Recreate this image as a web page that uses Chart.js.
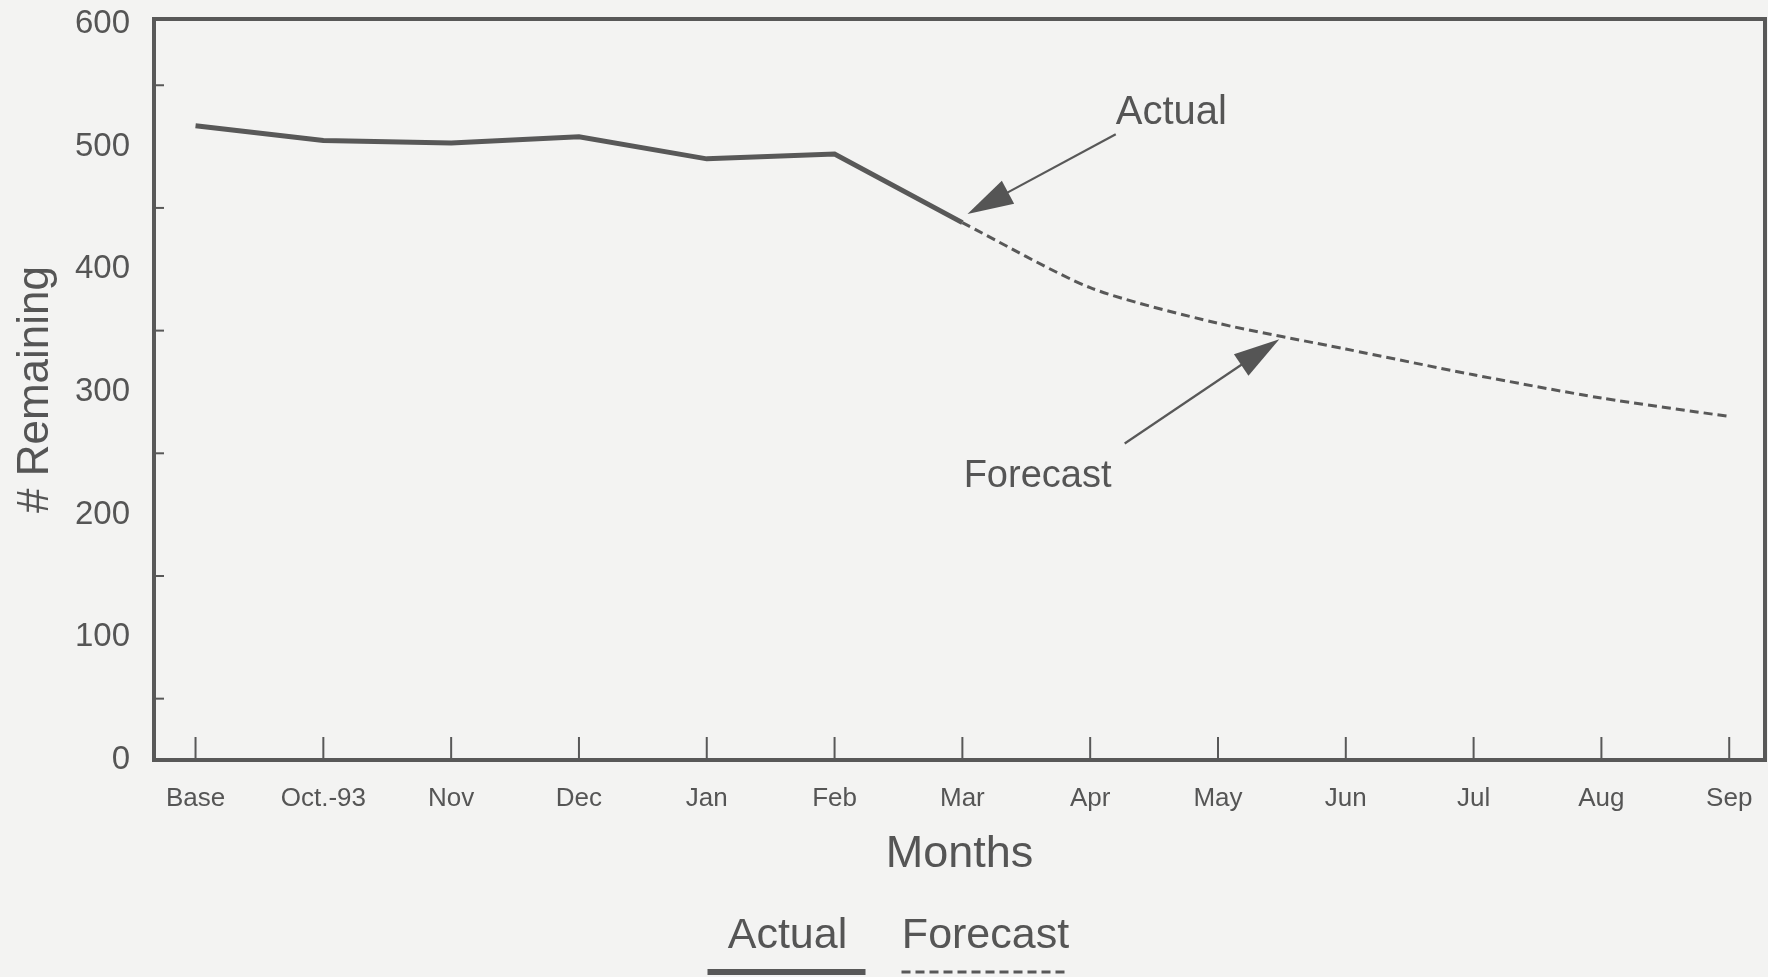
<!DOCTYPE html>
<html>
<head>
<meta charset="utf-8">
<script src="https://cdn.jsdelivr.net/npm/chart.js@4/dist/chart.umd.min.js"></script>
<style>
  html, body { margin: 0; padding: 0; background: #f3f3f2; }
  #wrap { width: 1768px; height: 977px; }
</style>
</head>
<body>
<div id="wrap"><canvas id="myChart"></canvas></div>
<script>
const months = ['Base', 'Oct.-93', 'Nov', 'Dec', 'Jan', 'Feb', 'Mar', 'Apr', 'May', 'Jun', 'Jul', 'Aug', 'Sep']
const actual = [517, 505, 503, 508, 490, 494, 438, null, null, null, null, null, null]
const forecast = [null, null, null, null, null, null, 438, 385, 356, 335, 314, 295, 280]
const yTicks = [0, 100, 200, 300, 400, 500, 600]

const ink = '#585858'
const txt = '#555555'
const font = '"Liberation Sans", Arial, sans-serif'

// callouts, anchored in data units
const callouts = [
  { text: 'Actual', tip: [6.04, 445], tail: [7.20, 510], label: [7.20, 527], size: 40 },
  { text: 'Forecast', tip: [8.48, 343], tail: [7.27, 258], label: [6.01, 231], size: 38 }
]

const frame = {
  id: 'frame',
  beforeDraw(chart) {
    const ctx = chart.ctx
    ctx.save()
    ctx.fillStyle = '#f3f3f2'
    ctx.fillRect(0, 0, chart.width, chart.height)
    ctx.restore()
  },
  beforeDatasetsDraw(chart) {
    const { ctx, chartArea: a, scales: { x, y } } = chart
    ctx.save()
    ctx.strokeStyle = ink
    ctx.lineWidth = 2
    // inner ticks on the month axis
    months.forEach((m, i) => {
      const px = x.getPixelForValue(i)
      ctx.beginPath()
      ctx.moveTo(px, a.bottom)
      ctx.lineTo(px, a.bottom - 23)
      ctx.stroke()
    })
    // minor ticks between the y labels
    yTicks.slice(0, -1).forEach(v => {
      const py = y.getPixelForValue(v + 50)
      ctx.beginPath()
      ctx.moveTo(a.left, py)
      ctx.lineTo(a.left + 10, py)
      ctx.stroke()
    })
    ctx.lineWidth = 4
    ctx.strokeRect(a.left, a.top, a.right - a.left, a.bottom - a.top)
    ctx.restore()
  },
  afterDraw(chart) {
    const { ctx, scales: { x, y } } = chart
    ctx.save()
    ctx.fillStyle = txt
    ctx.strokeStyle = ink
    callouts.forEach(c => {
      const tx = x.getPixelForValue(c.tip[0]), ty = y.getPixelForValue(c.tip[1])
      const sx = x.getPixelForValue(c.tail[0]), sy = y.getPixelForValue(c.tail[1])
      const ang = Math.atan2(ty - sy, tx - sx)
      const hl = 46, hw = 13
      ctx.lineWidth = 2.2
      ctx.beginPath()
      ctx.moveTo(sx, sy)
      ctx.lineTo(tx - Math.cos(ang) * hl * 0.8, ty - Math.sin(ang) * hl * 0.8)
      ctx.stroke()
      ctx.beginPath()
      ctx.moveTo(tx, ty)
      ctx.lineTo(tx - Math.cos(ang) * hl + Math.sin(ang) * hw, ty - Math.sin(ang) * hl - Math.cos(ang) * hw)
      ctx.lineTo(tx - Math.cos(ang) * hl - Math.sin(ang) * hw, ty - Math.sin(ang) * hl + Math.cos(ang) * hw)
      ctx.closePath()
      ctx.fill()
      ctx.font = c.size + 'px ' + font
      ctx.textAlign = 'left'
      ctx.textBaseline = 'middle'
      ctx.fillText(c.text, x.getPixelForValue(c.label[0]), y.getPixelForValue(c.label[1]))
    })

    // legend: name above a line sample
    ctx.font = '43px ' + font
    ctx.textBaseline = 'middle'
    ctx.textAlign = 'center'
    const cx = (chart.chartArea.left + chart.chartArea.right) / 2
    ctx.fillText('Actual', cx - 172, 936)
    ctx.fillText('Forecast', cx + 26, 936)
    ctx.lineWidth = 6
    ctx.beginPath()
    ctx.moveTo(cx - 252, 972)
    ctx.lineTo(cx - 94, 972)
    ctx.stroke()
    ctx.lineWidth = 3
    ctx.setLineDash([9, 5])
    ctx.beginPath()
    ctx.moveTo(cx - 58, 972)
    ctx.lineTo(cx + 108, 972)
    ctx.stroke()
    ctx.restore()
  }
}

function createChart() {
  const ctx = document.getElementById('myChart')
  new Chart(ctx, {
    type: 'line',
    data: {
      datasets: [{
        label: 'Actual',
        data: actual.map((v, i) => ({ x: i, y: v })),
        borderColor: ink,
        borderWidth: 5,
        pointRadius: 0,
        tension: 0
      }, {
        label: 'Forecast',
        data: forecast.map((v, i) => ({ x: i, y: v })),
        borderColor: ink,
        borderWidth: 3,
        borderDash: [9, 5],
        pointRadius: 0,
        tension: 0.25
      }]
    },
    options: {
      responsive: true,
      maintainAspectRatio: false,
      animation: false,
      layout: { padding: { top: 19, right: 3, bottom: 87, left: 0 } },
      plugins: {
        legend: { display: false },
        tooltip: { enabled: false }
      },
      scales: {
        x: {
          type: 'linear',
          min: -0.325,
          max: 12.28,
          afterBuildTicks: s => { s.ticks = months.map((m, i) => ({ value: i })) },
          afterFit: s => { s.height = 130; s.paddingLeft = 0; s.paddingRight = 0 },
          grid: { display: false, drawTicks: false },
          border: { display: false },
          ticks: {
            autoSkip: false,
            maxRotation: 0,
            padding: 23,
            color: txt,
            font: { family: font, size: 26 },
            callback: v => months[v]
          },
          title: {
            display: true,
            text: 'Months',
            color: txt,
            font: { family: font, size: 45 },
            padding: { top: 0, bottom: 8 }
          }
        },
        y: {
          min: 0,
          max: 604,
          afterBuildTicks: s => { s.ticks = yTicks.map(v => ({ value: v })) },
          afterFit: s => { s.width = 154; s.paddingTop = 0; s.paddingBottom = 0 },
          grid: { display: false, drawTicks: false },
          border: { display: false },
          ticks: {
            padding: 24,
            color: txt,
            font: { family: font, size: 33 }
          },
          title: {
            display: true,
            text: '# Remaining',
            color: txt,
            font: { family: font, size: 44 },
            padding: { top: 9, bottom: 0 }
          }
        }
      }
    },
    plugins: [frame]
  })
}

createChart()
</script>
</body>
</html>
